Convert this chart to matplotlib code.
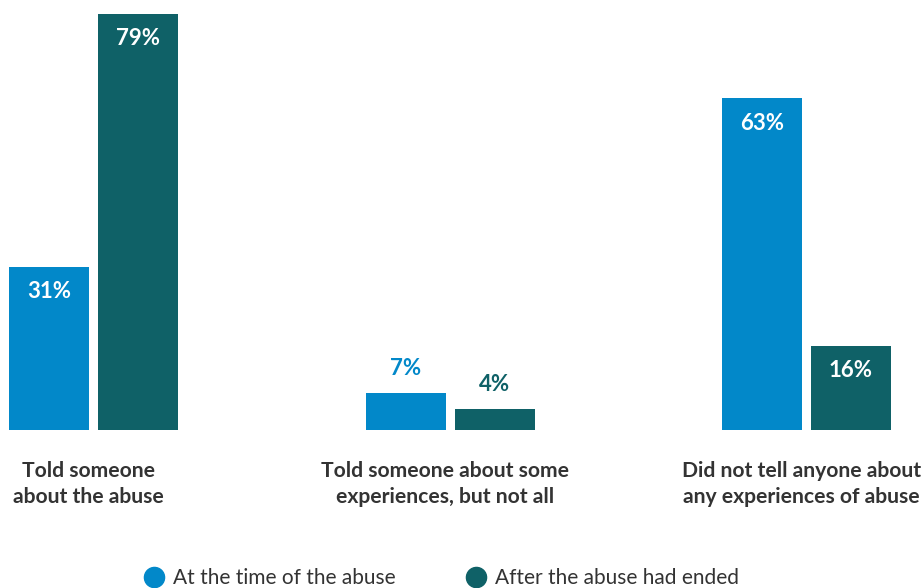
import matplotlib.pyplot as plt
from matplotlib.lines import Line2D
import numpy as np

plt.rcParams['font.family'] = ['Lato', 'DejaVu Sans']

categories = ["Told someone\nabout the abuse",
              "Told someone about some\nexperiences, but not all",
              "Did not tell anyone about\nany experiences of abuse"]
at_time = [31, 7, 63]
after_end = [79, 4, 16]
series_names = ["At the time of the abuse", "After the abuse had ended"]

blue = "#0288c9"
teal = "#0f6167"
text_col = "#333333"

fig = plt.figure(figsize=(9.21, 5.88), dpi=100)
ax = fig.add_axes([0, 158 / 588, 1, 430 / 588])

x = np.arange(len(categories))
w = 80 / 356.5
off = 44.5 / 356.5

b1 = ax.bar(x - off, at_time, w, color=blue)
b2 = ax.bar(x + off, after_end, w, color=teal)

for bars, vals, col in [(b1, at_time, blue), (b2, after_end, teal)]:
    for bar, v in zip(bars, vals):
        cx = bar.get_x() + bar.get_width() / 2
        if v >= 10:
            ax.text(cx, v - 4.75, f"{v}%", ha='center', va='center',
                    color='white', fontsize=16, fontweight='bold')
        else:
            ax.text(cx, v + 4.6, f"{v}%", ha='center', va='center',
                    color=col, fontsize=16, fontweight='bold')

for i, c in enumerate(categories):
    ax.text(i - 5 / 356.5, -5.9, c, ha='center', va='top', color=text_col,
            fontsize=15.2, fontweight='bold', linespacing=1.38, clip_on=False)

ax.set_xlim(-93.5 / 356.5, (921 - 93.5) / 356.5)
ax.set_ylim(0, 430 / 5.266)
ax.axis('off')

handles = [Line2D([], [], marker='o', ls='none', color=blue, markersize=14.5),
           Line2D([], [], marker='o', ls='none', color=teal, markersize=14.5)]
fig.legend(handles, series_names, loc='center', bbox_to_anchor=(0.479, 0.017),
           ncol=2, frameon=False, fontsize=15, columnspacing=3.35,
           handlelength=1.0, handletextpad=0.4, labelcolor=text_col)

fig.savefig("out.png", dpi=100)
